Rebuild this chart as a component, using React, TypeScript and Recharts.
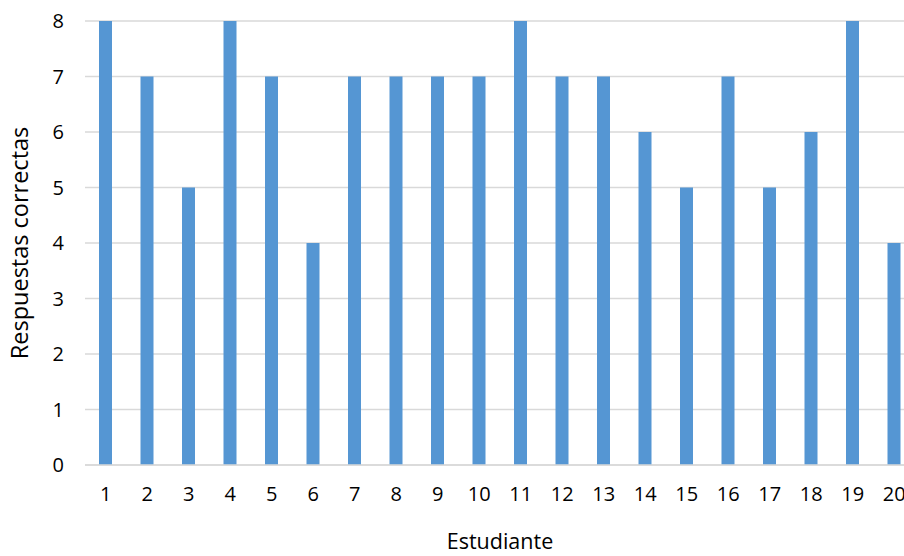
import React from 'react';
import { BarChart, Bar, XAxis, YAxis, CartesianGrid } from 'recharts';

const estudiantes = ['1','2','3','4','5','6','7','8','9','10','11','12','13','14','15','16','17','18','19','20'];
const respuestas = [8,7,5,8,7,4,7,7,7,7,8,7,7,6,5,7,5,6,8,4];
const yTicks = [0,1,2,3,4,5,6,7,8];

const data = estudiantes.map((e, i) => ({ est: e, val: respuestas[i] }));

const FONT = '"Open Sans", Lato, sans-serif';

export default function App() {
  return (
    <div style={{ position: 'absolute', left: 0, top: 0, width: 904, height: 556, overflow: 'hidden', background: '#fff' }}>
      <BarChart
        width={920}
        height={556}
        data={data}
        margin={{ top: 21, right: 5, left: 0, bottom: 0 }}
        barCategoryGap={0}
      >
        <CartesianGrid vertical={false} stroke="#d9d9d9" strokeWidth={1.5} />
        <XAxis
          dataKey="est"
          height={91}
          tickLine={false}
          tickSize={0}
          tickMargin={22}
          axisLine={{ stroke: '#d9d9d9', strokeWidth: 1.5 }}
          tick={{ fill: '#000', fontSize: 20, fontFamily: FONT }}
          interval={0}
          label={{ value: 'Estudiante', position: 'insideBottom', offset: 7, fill: '#000', fontSize: 21.5, fontFamily: FONT }}
        />
        <YAxis
          width={85}
          domain={[0, 8]}
          ticks={yTicks}
          axisLine={false}
          tickLine={false}
          tickSize={0}
          tickMargin={21}
          tick={{ fill: '#000', fontSize: 20, fontFamily: FONT }}
          label={{ value: 'Respuestas correctas', angle: -90, position: 'center', dx: -23, fill: '#000', fontSize: 23.5, fontFamily: FONT }}
        />
        <Bar dataKey="val" fill="#5596d3" barSize={13} isAnimationActive={false} />
      </BarChart>
    </div>
  );
}
